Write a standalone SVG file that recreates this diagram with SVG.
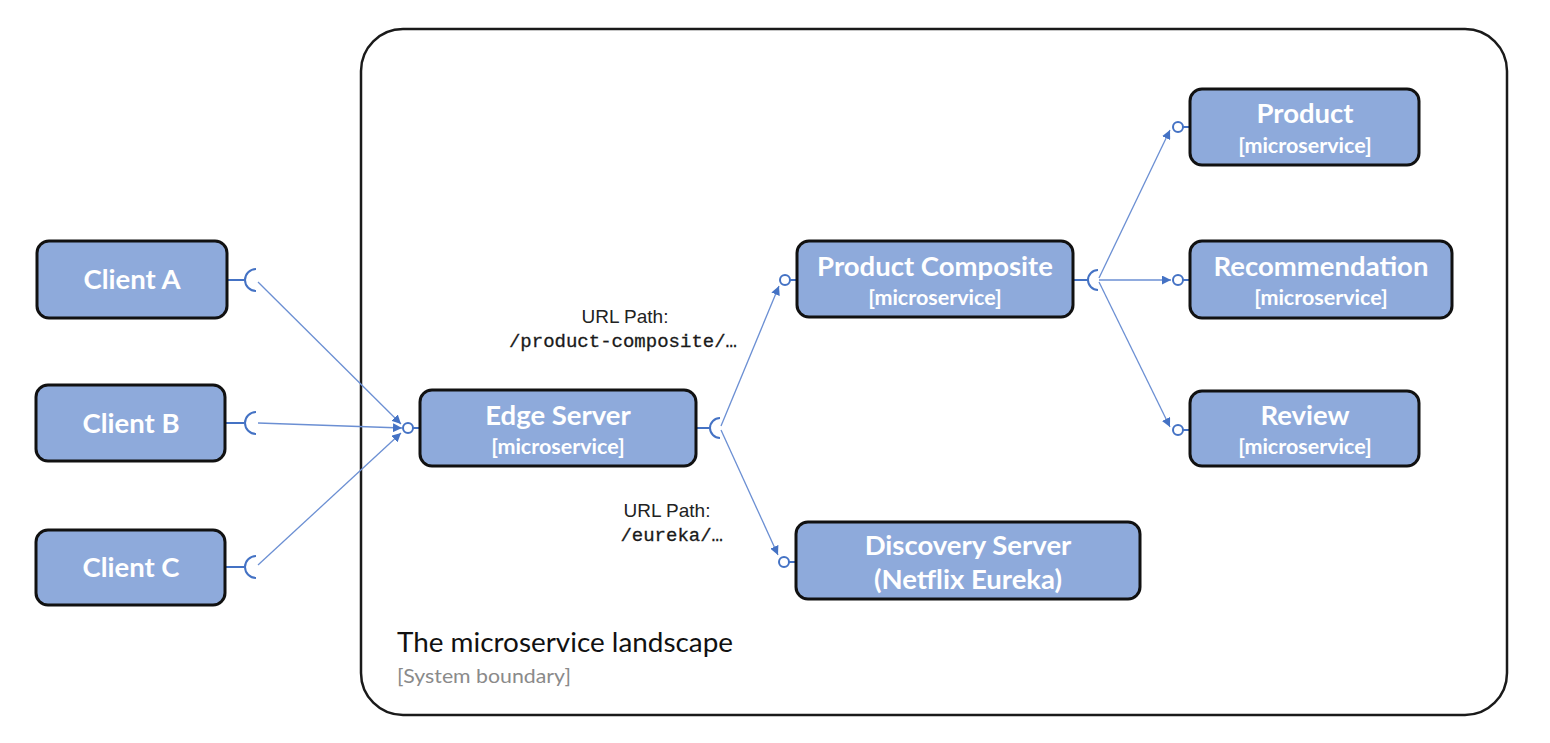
<svg xmlns="http://www.w3.org/2000/svg" width="1550" height="743" viewBox="0 0 1550 743">
<style>
.node{fill:#8eaadb;stroke:#111;stroke-width:3}
.t1{font-family:Lato,"Open Sans","Liberation Sans",sans-serif;font-weight:bold;fill:#fff;text-anchor:middle;font-size:27.5px}
.t2{font-family:Lato,"Open Sans","Liberation Sans",sans-serif;font-weight:bold;fill:#fff;text-anchor:middle;font-size:21.5px}
.ln{stroke:#6b8fd3;stroke-width:1.3;fill:none}
.sk{stroke:#4472c4;stroke-width:2;fill:none}
.ball{stroke:#4472c4;stroke-width:2;fill:#fff}
.lbl{font-family:"Liberation Sans",Arial,sans-serif;font-size:19px;fill:#222}
.mono{font-family:"Liberation Mono","Courier New",monospace;font-size:19px;fill:#1a1a1a;stroke:#1a1a1a;stroke-width:0.3}
</style>
<defs>
<marker id="ah" viewBox="0 0 10 10" refX="10" refY="5" markerWidth="9" markerHeight="9" markerUnits="userSpaceOnUse" orient="auto">
<path d="M0,0 L10,5 L0,10 z" fill="#4472c4"/>
</marker>
</defs>
<rect width="1550" height="743" fill="#fff"/>
<g id="boundary">
<rect x="361" y="29" width="1146" height="686" rx="42" ry="42" fill="#fff" stroke="#1a1a1a" stroke-width="2.5"/>
<text x="397" y="652" font-family="Lato,'Open Sans','Liberation Sans',sans-serif" font-size="27" fill="#111" textLength="336" lengthAdjust="spacingAndGlyphs">The microservice landscape</text>
<text x="397" y="683" font-family="Lato,'Open Sans','Liberation Sans',sans-serif" font-size="19" fill="#8a8a8a" textLength="174" lengthAdjust="spacingAndGlyphs">[System boundary]</text>
</g>
<g id="connectors">
<path class="sk" d="M227,280 H244 M256,269 A11,11 0 0 0 256,291"/>
<path class="sk" d="M225,423 H244 M256,412 A11,11 0 0 0 256,434"/>
<path class="sk" d="M225,567 H244 M256,556 A11,11 0 0 0 256,578"/>
<line class="ln" x1="258" y1="282" x2="401" y2="424" marker-end="url(#ah)"/>
<line class="ln" x1="258" y1="423" x2="402" y2="428" marker-end="url(#ah)"/>
<line class="ln" x1="258" y1="565" x2="401" y2="433" marker-end="url(#ah)"/>
<line class="sk" x1="413" y1="428" x2="420" y2="428"/>
<circle class="ball" cx="408" cy="428" r="5"/>
<path class="sk" d="M696,428 H710 M720,418 A10,10 0 0 0 720,438"/>
<line class="ln" x1="721" y1="426" x2="779" y2="286" marker-end="url(#ah)"/>
<line class="ln" x1="721" y1="430" x2="778" y2="555" marker-end="url(#ah)"/>
<line class="sk" x1="790" y1="280" x2="797" y2="280"/>
<circle class="ball" cx="785" cy="280" r="5"/>
<line class="sk" x1="789" y1="562" x2="796" y2="562"/>
<circle class="ball" cx="784" cy="562" r="5"/>
<path class="sk" d="M1074,280 H1088 M1098,270 A10,10 0 0 0 1098,290"/>
<line class="ln" x1="1099" y1="278" x2="1170" y2="130" marker-end="url(#ah)"/>
<line class="ln" x1="1099" y1="280" x2="1171" y2="280" marker-end="url(#ah)"/>
<line class="ln" x1="1099" y1="282" x2="1170" y2="427" marker-end="url(#ah)"/>
<line class="sk" x1="1183" y1="127" x2="1190" y2="127"/>
<circle class="ball" cx="1178" cy="127" r="5"/>
<line class="sk" x1="1183" y1="280" x2="1190" y2="280"/>
<circle class="ball" cx="1178" cy="280" r="5"/>
<line class="sk" x1="1183" y1="430" x2="1190" y2="430"/>
<circle class="ball" cx="1178" cy="430" r="5"/>
<text class="lbl" x="625" y="323" text-anchor="middle">URL Path:</text>
<text class="mono" x="737" y="347" text-anchor="end">/product-composite/…</text>
<text class="lbl" x="667" y="517" text-anchor="middle">URL Path:</text>
<text class="mono" x="723" y="541" text-anchor="end">/eureka/…</text>
</g>
<g id="client-a">
<rect class="node" x="37" y="241" width="190" height="77" rx="12"/>
<text class="t1" x="132" y="289">Client A</text>
</g>
<g id="client-b">
<rect class="node" x="36" y="385" width="189" height="76" rx="12"/>
<text class="t1" x="131" y="433">Client B</text>
</g>
<g id="client-c">
<rect class="node" x="36" y="530" width="189" height="75" rx="12"/>
<text class="t1" x="131" y="577">Client C</text>
</g>
<g id="edge-server">
<rect class="node" x="420" y="390" width="276" height="76" rx="12"/>
<text class="t1" x="558" y="425">Edge Server</text>
<text class="t2" x="558" y="454">[microservice]</text>
</g>
<g id="product-composite">
<rect class="node" x="797" y="241" width="276" height="76" rx="12"/>
<text class="t1" x="935" y="276">Product Composite</text>
<text class="t2" x="935" y="305">[microservice]</text>
</g>
<g id="discovery-server">
<rect class="node" x="796" y="522" width="344" height="77" rx="12"/>
<text class="t1" x="968" y="555">Discovery Server</text>
<text class="t1" x="968" y="589">(Netflix Eureka)</text>
</g>
<g id="product">
<rect class="node" x="1190" y="89" width="229" height="76" rx="12"/>
<text class="t1" x="1305" y="123">Product</text>
<text class="t2" x="1305" y="153">[microservice]</text>
</g>
<g id="recommendation">
<rect class="node" x="1190" y="241" width="262" height="77" rx="12"/>
<text class="t1" x="1321" y="276">Recommendation</text>
<text class="t2" x="1321" y="305">[microservice]</text>
</g>
<g id="review">
<rect class="node" x="1190" y="391" width="229" height="75" rx="12"/>
<text class="t1" x="1305" y="425">Review</text>
<text class="t2" x="1305" y="454">[microservice]</text>
</g>
</svg>
